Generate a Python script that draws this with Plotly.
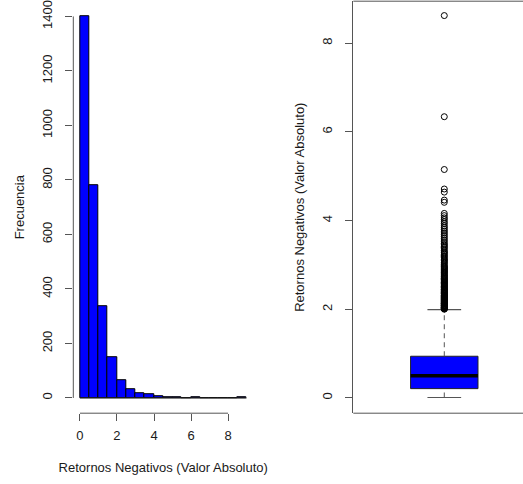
import plotly.graph_objects as go

# ---------------- data ----------------
# Histogram (bins of width 0.5 from 0 to 9)
bin_edges = [0.0, 0.5, 1.0, 1.5, 2.0, 2.5, 3.0, 3.5, 4.0, 4.5, 5.0, 5.5, 6.0, 6.5, 7.0, 7.5, 8.0, 8.5, 9.0]
hist_counts = [1400, 780, 338, 149, 66, 32, 18, 12, 5, 2, 1, 0, 1, 0, 0, 0, 0, 1]
hist_xticks = [0, 2, 4, 6, 8]
hist_yticks = [0, 200, 400, 600, 800, 1000, 1200, 1400]

# Boxplot statistics
box_min = 0.01
box_q1 = 0.21
box_median = 0.50
box_q3 = 0.94
box_upper = 1.99
box_yticks = [0, 2, 4, 6, 8]
outliers = [
    2.00, 2.01, 2.01, 2.02, 2.03, 2.04, 2.04, 2.05, 2.06, 2.07, 2.08, 2.08, 2.09, 2.10,
    2.11, 2.12, 2.13, 2.13, 2.14, 2.15, 2.16, 2.17, 2.18, 2.19, 2.20, 2.21, 2.22, 2.23,
    2.24, 2.25, 2.26, 2.27, 2.28, 2.29, 2.30, 2.31, 2.32, 2.34, 2.35, 2.36, 2.37, 2.38,
    2.40, 2.41, 2.42, 2.44, 2.45, 2.46, 2.48, 2.49,
    2.51, 2.52, 2.54, 2.55, 2.57, 2.58, 2.60, 2.61, 2.63, 2.64, 2.66, 2.67, 2.69, 2.70,
    2.72, 2.74, 2.75, 2.77, 2.79, 2.81, 2.83, 2.84, 2.86, 2.88, 2.90, 2.91, 2.93, 2.95,
    2.96, 2.98,
    3.01, 3.04, 3.06, 3.09, 3.11, 3.13, 3.16, 3.19, 3.21, 3.24, 3.27, 3.29, 3.32, 3.36,
    3.39, 3.42, 3.45, 3.48,
    3.52, 3.56, 3.60, 3.64, 3.68, 3.72, 3.76, 3.80, 3.84, 3.88, 3.93, 3.97,
    4.02, 4.06, 4.11, 4.16, 4.41, 4.46,
    4.64, 4.71,
    5.15, 6.34, 8.62,
]

# ---------------- styling ----------------
FONT = "Liberation Sans, Arial, sans-serif"
AXC = "#555555"
BLUE = "#0000FF"
TXT = "#1a1a1a"

bin_centers = [(a + b) / 2 for a, b in zip(bin_edges[:-1], bin_edges[1:])]
bin_widths = [b - a for a, b in zip(bin_edges[:-1], bin_edges[1:])]

fig = go.Figure()

# Histogram bars
fig.add_trace(go.Bar(
    x=bin_centers, y=hist_counts, width=bin_widths,
    marker=dict(color=BLUE, line=dict(color="black", width=1)),
    xaxis="x", yaxis="y", showlegend=False, hoverinfo="x+y",
))
# baseline of the empty bins
fig.add_trace(go.Scatter(
    x=[bin_edges[0], bin_edges[-1]], y=[0, 0], mode="lines",
    line=dict(color="#222222", width=1), xaxis="x", yaxis="y",
    showlegend=False, hoverinfo="skip",
))

# Boxplot
BX = 1.0
HALF = 0.2
CAP = 0.1
fig.add_trace(go.Scatter(
    x=[BX - HALF, BX + HALF, BX + HALF, BX - HALF, BX - HALF],
    y=[box_q1, box_q1, box_q3, box_q3, box_q1],
    mode="lines", fill="toself", fillcolor=BLUE,
    line=dict(color="#222222", width=1), xaxis="x2", yaxis="y2",
    showlegend=False, hoverinfo="skip",
))
# whiskers (dashed)
fig.add_trace(go.Scatter(
    x=[BX, BX, None, BX, BX], y=[box_q3, box_upper, None, box_min, box_q1],
    mode="lines", line=dict(color="#555555", width=1, dash="5px,4px"),
    xaxis="x2", yaxis="y2", showlegend=False, hoverinfo="skip",
))
# caps
fig.add_trace(go.Scatter(
    x=[BX - CAP, BX + CAP, None, BX - CAP, BX + CAP],
    y=[box_upper, box_upper, None, box_min, box_min],
    mode="lines", line=dict(color="#555555", width=1.2),
    xaxis="x2", yaxis="y2", showlegend=False, hoverinfo="skip",
))
# median
fig.add_trace(go.Scatter(
    x=[BX - HALF, BX + HALF], y=[box_median, box_median],
    mode="lines", line=dict(color="black", width=3.5),
    xaxis="x2", yaxis="y2", showlegend=False, hoverinfo="skip",
))
# outliers
fig.add_trace(go.Scatter(
    x=[BX] * len(outliers), y=outliers, mode="markers",
    marker=dict(symbol="circle-open", size=6, color="black", line=dict(width=1)),
    xaxis="x2", yaxis="y2", showlegend=False,
))

W, H = 523, 484
ydom = [(H - 413.2) / H, (H - 1.2) / H]
box_right_px = 540.0  # R's frame extends past the visible window
box_left_px = 353.3
box_px_per_unit = 168.5
box_xmin = 0.46

common_tick = dict(
    showgrid=False, zeroline=False, ticks="outside", ticklen=7, tickwidth=1,
    tickcolor=AXC, tickfont=dict(family=FONT, size=13, color=TXT),
)

fig.update_layout(
    width=W, height=H, template="none",
    margin=dict(l=0, r=0, t=0, b=0),
    paper_bgcolor="white", plot_bgcolor="white",
    font=dict(family=FONT, size=13, color=TXT),
    bargap=0,
    xaxis=dict(
        domain=[73.3 / W, 253.2 / W], range=[-0.36, 9.36], anchor="y",
        tickmode="array", tickvals=hist_xticks, showline=False,
        ticklabelstandoff=3,
        title=dict(text="Retornos Negativos (Valor Absoluto)", standoff=21,
                   font=dict(family=FONT, size=13, color=TXT)),
        automargin=False, **common_tick,
    ),
    yaxis=dict(
        domain=ydom, range=[-56, 1456], anchor="x",
        tickmode="array", tickvals=hist_yticks, tickangle=-90, showline=False,
        ticklabelstandoff=8,
        title=dict(text="Frecuencia", standoff=12,
                   font=dict(family=FONT, size=13, color=TXT)),
        automargin=False, **common_tick,
    ),
    xaxis2=dict(
        domain=[box_left_px / W, 1.0],
        range=[box_xmin, box_xmin + (W - box_left_px) / box_px_per_unit], anchor="y2",
        showticklabels=False, ticks="", showgrid=False, zeroline=False,
        showline=False, automargin=False,
    ),
    yaxis2=dict(
        domain=ydom, range=[-0.344, 8.944], anchor="x2",
        tickmode="array", tickvals=box_yticks, tickangle=-90,
        showline=True, mirror=False, linecolor=AXC, linewidth=1,
        ticklabelstandoff=8,
        title=dict(text="Retornos Negativos (Valor Absoluto)", standoff=12,
                   font=dict(family=FONT, size=13, color=TXT)),
        automargin=False, **common_tick,
    ),
    shapes=[
        # histogram axis lines (R style: spanning the tick range only)
        dict(type="line", xref="x domain", x0=0, x1=0, yref="y",
             y0=min(hist_yticks), y1=max(hist_yticks), line=dict(color=AXC, width=1)),
        dict(type="line", xref="x", x0=min(hist_xticks), x1=max(hist_xticks),
             yref="y domain", y0=0, y1=0, line=dict(color=AXC, width=1)),
        # top and bottom edges of the boxplot frame (open on the right: frame is off-window)
        dict(type="line", xref="paper", x0=box_left_px / W, x1=box_right_px / W,
             yref="y2 domain", y0=1, y1=1, line=dict(color=AXC, width=1)),
        dict(type="line", xref="paper", x0=box_left_px / W, x1=box_right_px / W,
             yref="y2 domain", y0=0, y1=0, line=dict(color=AXC, width=1)),
    ],
)

fig.write_html(
    "out.html",
    config={"displayModeBar": False},
    post_script="document.body.style.margin='0';document.body.style.overflow='hidden';",
)
